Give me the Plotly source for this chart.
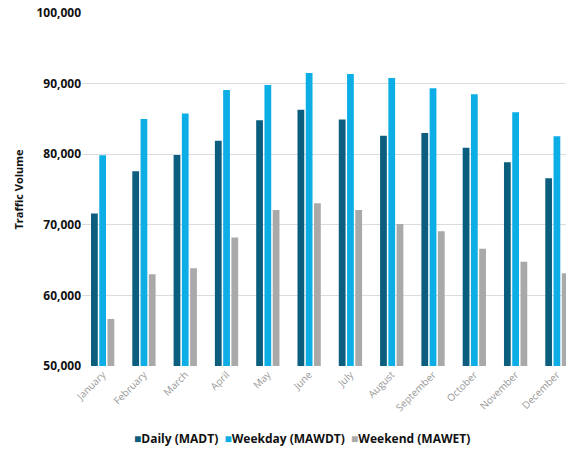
import plotly.graph_objects as go

months = ["January", "February", "March", "April", "May", "June", "July",
          "August", "September", "October", "November", "December"]
daily_madt = [71600, 77600, 79900, 81900, 84800, 86300, 84900, 82600, 83000, 80900, 78850, 76600]
weekday_mawdt = [79850, 85000, 85750, 89100, 89800, 91500, 91350, 90800, 89350, 88500, 85950, 82550]
weekend_mawet = [56650, 63000, 63850, 68200, 72100, 73050, 72100, 70100, 69100, 66600, 64750, 63150]
y_ticks = [50000, 60000, 70000, 80000, 90000, 100000]

font_family = "Open Sans, Noto Sans, sans-serif"

fig = go.Figure()
series = [
    ("Daily (MADT)", daily_madt, "#0B5E7E"),
    ("Weekday (MAWDT)", weekday_mawdt, "#0DAEE6"),
    ("Weekend (MAWET)", weekend_mawet, "#A9A9A9"),
]
for name, vals, color in series:
    fig.add_trace(go.Bar(x=months, y=vals, name=name, marker_color=color,
                         marker_line_width=0, showlegend=False))

# compact legend row: coloured square glyph directly in front of each label
legend_text = "  ".join(
    f'<span style="color:{color}">■</span>{name}' for name, _, color in series
)
fig.add_annotation(
    text=legend_text, xref="paper", yref="paper",
    x=(302 - 82) / 484, y=-0.205, xanchor="center", yanchor="middle",
    showarrow=False,
    font=dict(size=12, family=font_family, weight="bold", color="#111"),
)

fig.update_layout(
    width=566, height=449,
    margin=dict(l=82, r=0, t=13, b=83),
    paper_bgcolor="white", plot_bgcolor="white",
    barmode="group", bargap=0.4, bargroupgap=0.18,
    font=dict(family=font_family, color="#111"),
    xaxis=dict(range=[-0.5, 11.22], tickangle=-45, showgrid=False, automargin=False,
               tickfont=dict(size=10, color="#999", family=font_family),
               showline=False, ticks=""),
    yaxis=dict(range=[50000, 100000], tickvals=y_ticks, automargin=False,
               tickformat=",d", showgrid=True, gridcolor="#DCDCDC", gridwidth=1,
               zeroline=False, showline=False, ticks="",
               tickfont=dict(size=12, family=font_family, weight="bold", color="#111"),
               title=dict(text="Traffic Volume", standoff=10,
                          font=dict(size=11, family=font_family, weight="bold", color="#111"))),
)

fig.write_html("out.html")
